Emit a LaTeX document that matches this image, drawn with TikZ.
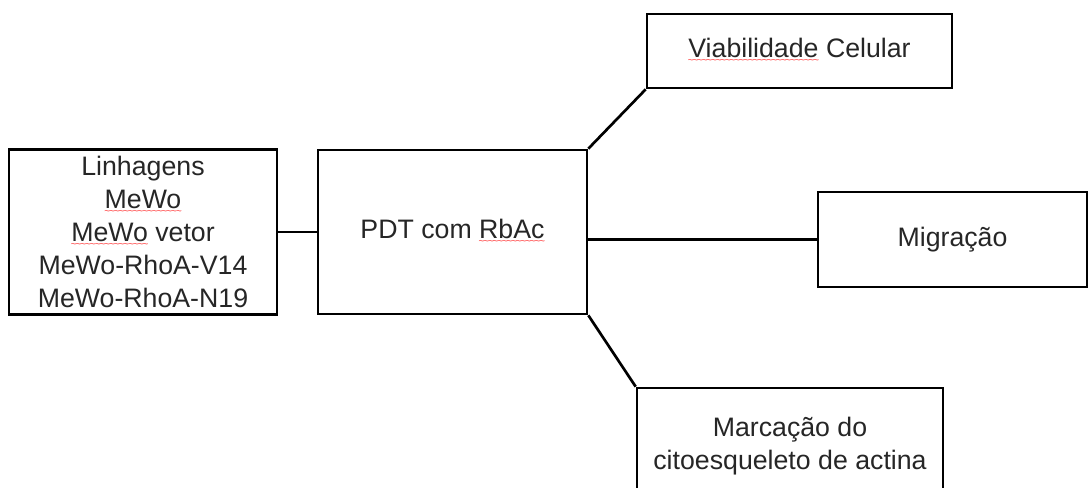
\documentclass[tikz,border=0pt]{standalone}
\usepackage{fontspec}
\setmainfont{Liberation Sans}
\usepackage{tikz}
% red wavy mark under words
\newsavebox\sqbox
\newcommand\sqg[1]{\sbox\sqbox{#1}\leavevmode\rlap{\raisebox{-4.5pt}{\hbox to\wd\sqbox{\color{red!80}\fontsize{7}{7}\selectfont
    \xleaders\hbox{\kern-0.4pt\textasciitilde\kern-0.4pt}\hfil}}}\usebox\sqbox}
\begin{document}
\begin{tikzpicture}[line width=1.9pt]
\tikzstyle{box}=[draw, rectangle, align=center, text=black!85,
    font=\fontsize{19}{23.5}\selectfont]
    \clip (0,0) rectangle (27.2,12.175);
    \node [box, minimum width=6.7cm, minimum height=4.125cm] (lin) at (3.575,6.375)
        {Linhagens\\\sqg{MeWo}\\\sqg{MeWo} vetor\\MeWo-RhoA-V14\\MeWo-RhoA-N19};
    \node [box, minimum width=6.725cm, minimum height=4.1cm] (pdt) at (11.3125,6.375)
        {PDT com \sqg{RbAc}};
    \node [box, minimum width=7.625cm, minimum height=1.85cm] (via) at (19.9875,10.9)
        {\sqg{Viabilidade} Celular};
    \node [box, minimum width=6.725cm, minimum height=2.375cm] (mig) at (23.8125,6.1875)
        {Migração};
    \node [box, minimum width=7.65cm, minimum height=2.925cm] (mar) at (19.75,1.0125)
        {Marcação do\\citoesqueleto de actina};
    \draw (lin.east) -- (pdt.west);
    \draw (pdt.north east) -- (via.south west);
    \draw (pdt.east |- mig.west) -- (mig.west);
    \draw (pdt.south east) -- (mar.north west);
\end{tikzpicture}
\end{document}
